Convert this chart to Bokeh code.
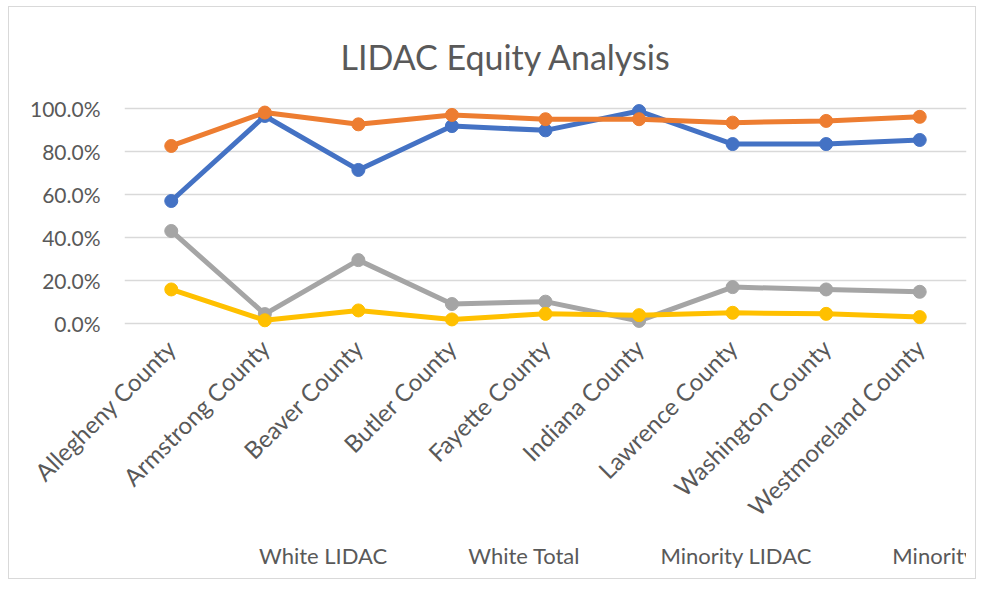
import math
from bokeh.plotting import figure
from bokeh.layouts import column
from bokeh.models import FixedTicker, NumeralTickFormatter, Legend, LegendItem, Range1d
from bokeh.embed import file_html
from bokeh.resources import INLINE

counties = ["Allegheny County", "Armstrong County", "Beaver County", "Butler County",
            "Fayette County", "Indiana County", "Lawrence County", "Washington County",
            "Westmoreland County"]
white_lidac = [0.57, 0.967, 0.715, 0.92, 0.90, 0.99, 0.836, 0.836, 0.855]
white_total = [0.827, 0.983, 0.928, 0.972, 0.952, 0.952, 0.936, 0.944, 0.963]
minority_lidac = [0.43, 0.042, 0.294, 0.089, 0.10, 0.01, 0.168, 0.157, 0.146]
minority_total = [0.157, 0.013, 0.059, 0.017, 0.043, 0.037, 0.048, 0.043, 0.028]
y_ticks = [0.0, 0.2, 0.4, 0.6, 0.8, 1.0]

series = [("White LIDAC", white_lidac, "#4472C4"),
          ("White Total", white_total, "#ED7D31"),
          ("Minority LIDAC", minority_lidac, "#A5A5A5"),
          ("Minority Total", minority_total, "#FFC000")]

FONT = "Lato"
TXT = "#595959"

p = figure(frame_width=842, frame_height=227, x_range=counties, y_range=Range1d(-0.03, 1.03),
           output_backend="svg", toolbar_location=None,
           min_border_left=115, min_border_right=9, min_border_top=95, min_border_bottom=5)

p.title.text = "LIDAC Equity Analysis"
p.title.align = "left"
p.title.offset = 216
p.title.text_font = FONT
p.title.text_font_size = "34px"
p.title.text_font_style = "normal"
p.title.text_color = TXT
p.title.standoff = 51

p.outline_line_color = None
p.xgrid.grid_line_color = None
p.ygrid.ticker = FixedTicker(ticks=y_ticks)
p.ygrid.grid_line_color = "#d9d9d9"
p.ygrid.grid_line_width = 1.3

p.yaxis.ticker = FixedTicker(ticks=y_ticks)
p.yaxis.formatter = NumeralTickFormatter(format="0.0%")
p.yaxis.axis_line_color = None
p.yaxis.major_tick_line_color = None
p.yaxis.minor_tick_line_color = None
p.yaxis.major_label_text_font = FONT
p.yaxis.major_label_text_font_size = "21px"
p.yaxis.major_label_text_color = TXT
p.yaxis.major_label_standoff = 18

p.xaxis.axis_line_color = None
p.xaxis.major_tick_line_color = None
p.xaxis.major_label_orientation = math.pi / 4
p.xaxis.major_label_text_font = FONT
p.xaxis.major_label_text_font_size = "24px"
p.xaxis.major_label_text_color = TXT
p.xaxis.major_label_standoff = 8

for name, vals, color in series:
    p.line(counties, vals, line_color=color, line_width=5)
    p.scatter(counties, vals, size=13, fill_color=color, line_color=color)

# separate strip for the legend, stacked under the chart
lg = figure(width=966, height=44, x_range=Range1d(0, 1), y_range=Range1d(0, 1),
            output_backend="svg", toolbar_location=None,
            min_border_left=0, min_border_right=0, min_border_top=0, min_border_bottom=0)
lg.axis.visible = False
lg.grid.visible = False
lg.outline_line_color = None

items = []
for name, vals, color in series:
    r1 = lg.line([], [], line_color=color, line_width=5)
    r2 = lg.scatter([], [], size=13, fill_color=color, line_color=color)
    items.append(LegendItem(label=name, renderers=[r1, r2]))

legend = Legend(items=items, orientation="horizontal", location=(74, 9),
                glyph_width=57, glyph_height=20, label_standoff=4, spacing=20,
                label_text_font=FONT, label_text_font_size="22px", label_text_color=TXT,
                border_line_color=None, background_fill_alpha=0, margin=0, padding=0)
lg.add_layout(legend, "center")

layout = column(p, lg, spacing=0)
layout.styles = {"border": "1px solid #d9d9d9", "margin": "6px 0px 0px 8px"}

open("out.html", "w").write(file_html(layout, INLINE))
